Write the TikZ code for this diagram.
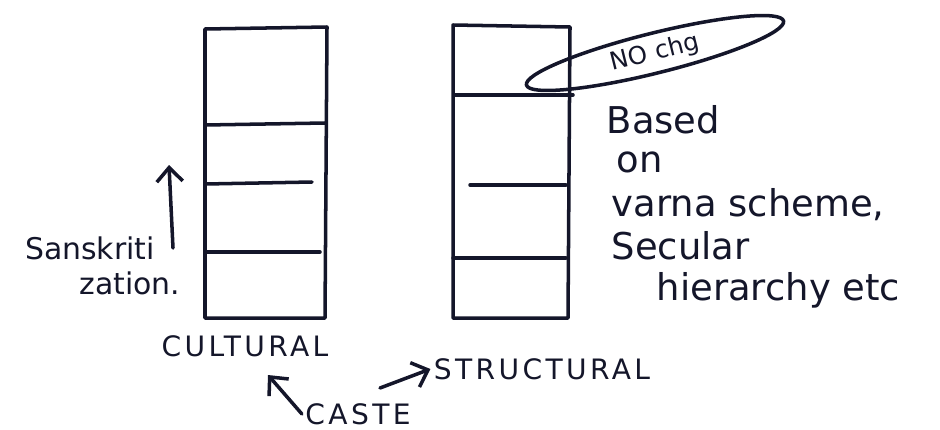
\documentclass[tikz,border=0pt]{standalone}
\usepackage{fontspec}
\usetikzlibrary{arrows.meta, calc, shapes.geometric}
\newfontfamily\handfont{DejaVu Sans}
\newfontfamily\capsfont[LetterSpace=12]{DejaVu Sans}
\definecolor{ink}{RGB}{20,22,42}

\begin{document}
\begin{tikzpicture}[x=0.2mm,y=-0.2mm,color=ink,line width=2pt,
  line cap=round,line join=round,
  >={Straight Barb[length=2.8mm,width=5.2mm]},
  caps/.style={font=\capsfont\fontsize{16}{18}\selectfont,inner sep=1pt},
  note/.style={font=\handfont\fontsize{21}{23}\selectfont,anchor=west,inner sep=0pt}]
  \useasboundingbox (0,0) rectangle (940,429);
  % cultural box: x in [205,327], y in [28,318]
  % structural box: x in [453,570], y in [25,318]
  \def\cl{205}
  \def\cr{327}
  \def\sl{453}
  \def\sr{570}
  \def\bt{27}
  \def\bb{318}

  % cultural column
  \draw(\cl,29)--(\cr,\bt)--(325,\bb)--(\cl,\bb)--cycle;
  \draw(\cl,125)--(325,123);
  \draw(\cl,184)--(312,182);
  \draw(\cl,252)--(320,252);

  % structural column
  \draw(\sl,25)--(\sr,27)--(568,\bb)--(\sl,\bb)--cycle;
  \draw(455,95)--(573,95);
  \draw(470,185)--(566,185);
  \draw(\sl,258)--(566,258);

  % no change loop
  \node[draw,ellipse,rotate=14,minimum width=53mm,minimum height=8mm,
    inner sep=0pt,font=\handfont\fontsize{14}{16}\selectfont] (nochg)
    at (655,53){NO chg};

  % notes right of structural column
  \node[note] (based) at (605,120){Based};
  \node[note] (on) at (615,162){on};
  \node[note] (varna) at (610,205){varna scheme,};
  \node[note] (secular) at (610,246){Secular};
  \node[note] (hier) at (655,290){hierarchy etc};

  % sanskritization
  \node[font=\handfont\fontsize{17}{19}\selectfont,inner sep=0pt] (sansk)
    at (90,248){Sanskriti};
  \node[font=\handfont\fontsize{17}{19}\selectfont,inner sep=0pt] (zation)
    at (130,283){zation.};
  \coordinate (sktail) at (173,248);
  \coordinate (skhead) at (169,165);
  \draw[->](sktail)--(skhead);

  % labels below
  \node[caps] (cult) at (245,346){CULTURAL};
  \node[caps] (struct) at (542,369){STRUCTURAL};
  \node[caps] (caste) at (358,414){CASTE};
  \coordinate (cultarr) at (268,375);
  \coordinate (structarr) at (380,388);
  \draw[->](caste.west)--(cultarr);
  \draw[->](structarr)--(struct.west);
\end{tikzpicture}
\end{document}
